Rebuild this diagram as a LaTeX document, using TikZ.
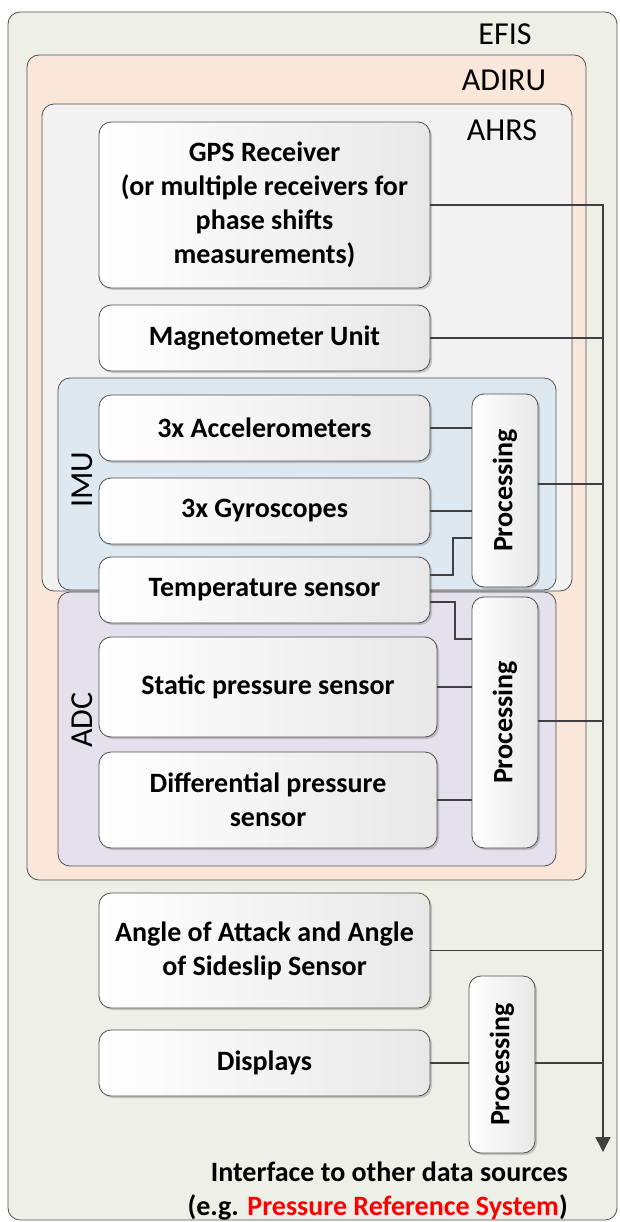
\documentclass[tikz,border=0pt]{standalone}
\usepackage{fontspec}
\usepackage{graphicx}
\setmainfont{Carlito}
\usetikzlibrary{shadows,arrows.meta,calc}
\definecolor{efisfill}{HTML}{EEF0E7}
\definecolor{adirufill}{HTML}{FBE6DA}
\definecolor{ahrsfill}{HTML}{F2F2F2}
\definecolor{imufill}{HTML}{DEE8F1}
\definecolor{adcfill}{HTML}{E4E1EC}
\definecolor{linecol}{HTML}{404040}
\definecolor{bordcol}{HTML}{505050}
\definecolor{redtext}{HTML}{FF0000}
\begin{document}
\begin{tikzpicture}[x=1pt,y=-1pt,
 container/.style={draw=bordcol, line width=0.8pt, rounded corners=12pt},
 box/.style={draw=bordcol, line width=0.8pt, rounded corners=12pt,
   left color=white, right color=black!9,
   drop shadow={shadow xshift=2pt, shadow yshift=-2pt, fill=black, opacity=0.18},
   anchor=north west, inner sep=0pt, outer sep=0pt, align=center,
   font=\fontsize{28}{34}\selectfont\bfseries},
 ctext/.style={font=\fontsize{32}{36}\selectfont, inner sep=0pt},
 conn/.style={draw=linecol, line width=1.6pt},
]
\useasboundingbox (0,0) rectangle (619,1222);
% containers
\draw[container, fill=efisfill] (8,12) rectangle (617,1220);
\draw[container, fill=adirufill] (27,55) rectangle (586,880);
\draw[container, fill=ahrsfill] (42,104) rectangle (572,591);
\draw[container, fill=imufill] (58,378) rectangle (556,590);
\draw[container, fill=adcfill] (58,592) rectangle (556,866);
\node[ctext] (efislbl) at (505,34) {EFIS};
\node[ctext] (adirulbl) at (504,80) {ADIRU};
\node[ctext] (ahrslbl) at (502,130) {AHRS};
\node[ctext, rotate=90] (imulbl) at (82,480) {IMU};
\node[ctext, rotate=90] (adclbl) at (82,720) {ADC};
% boxes
\node[box, minimum width=331pt, minimum height=166pt] (gps) at (99,122)
  {GPS Receiver\\(or multiple receivers for\\phase shifts\\measurements)};
\node[box, minimum width=331pt, minimum height=66pt] (mag) at (99,305) {Magnetometer Unit};
\node[box, minimum width=331pt, minimum height=66pt] (acc) at (99,395) {3x Accelerometers};
\node[box, minimum width=331pt, minimum height=66pt] (gyro) at (99,478) {3x Gyroscopes};
\node[box, minimum width=331pt, minimum height=66pt] (temp) at (99,557) {Temperature sensor};
\node[box, minimum width=66pt, minimum height=193pt] (imuproc) at (472,394) {\rotatebox{90}{Processing}};
\node[box, minimum width=338pt, minimum height=100pt] (static) at (99,637) {Static pressure sensor};
\node[box, minimum width=338pt, minimum height=96pt] (diff) at (99,752) {Differential pressure\\sensor};
\node[box, minimum width=66pt, minimum height=251pt] (adcproc) at (472,597) {\rotatebox{90}{Processing}};
\node[box, minimum width=331pt, minimum height=115pt] (aoa) at (99,893) {Angle of Attack and Angle\\of Sideslip Sensor};
\node[box, minimum width=331pt, minimum height=66pt] (disp) at (99,1030) {Displays};
\node[box, minimum width=66pt, minimum height=177pt] (botproc) at (469,976) {\rotatebox{90}{Processing}};
% connectors
\coordinate (tip) at (603,1152);
\draw[conn, -{Triangle[length=15pt,width=15pt]}] (gps.east) -| (tip);
\draw[conn] (mag.east) -- (mag.east -| tip);
\draw[conn] (acc.east) -- (acc.east -| imuproc.west);
\draw[conn] (gyro.east) -- (gyro.east -| imuproc.west);
\draw[conn] (temp.east |- 0,575) -- (453,575) -- (453,538) -- (imuproc.west |- 0,538);
\draw[conn] (temp.east |- 0,602) -- (455,602) -- (455,639) -- (adcproc.west |- 0,639);
\draw[conn] (static.east) -- (static.east -| adcproc.west);
\draw[conn] (diff.east) -- (diff.east -| adcproc.west);
\draw[conn] (imuproc.east |- 0,484) -- (tip |- 0,484);
\draw[conn] (adcproc.east |- 0,721) -- (tip |- 0,721);
\draw[conn] (aoa.east) -- (aoa.east -| tip);
\draw[conn] (disp.east) -- (disp.east -| botproc.west);
\draw[conn] (botproc.east |- disp.east) -- (tip |- disp.east);
% interface text
\node[font=\fontsize{28}{34}\selectfont\bfseries, align=right, anchor=east, inner sep=0pt] (iface) at (568,1191)
  {Interface to other data sources\\(e.g. \textcolor{redtext}{Pressure Reference System})};
\end{tikzpicture}
\end{document}
